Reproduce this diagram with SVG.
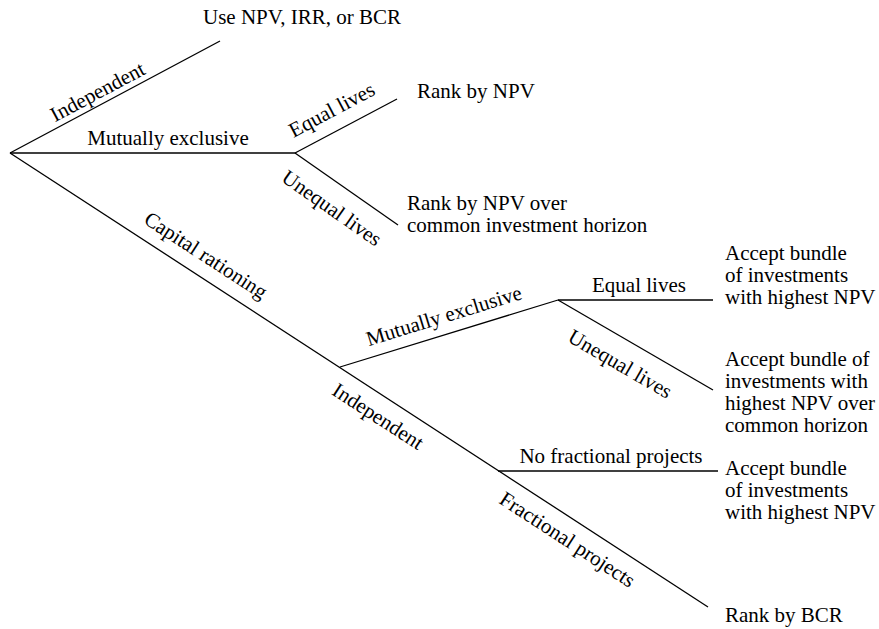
<svg xmlns="http://www.w3.org/2000/svg" width="879" height="629" viewBox="0 0 879 629">
  <style>
    .edge { stroke: #000; stroke-width: 1.3; fill: none; stroke-linecap: butt; }
    text { font-family: "Liberation Serif", "Times New Roman", serif; font-size: 21px; fill: #000; }
    .lbl { text-anchor: middle; }
  </style>
  <rect width="879" height="629" fill="#fff"/>

  <!-- Decision tree branches -->
  <g id="connectors">
    <line class="edge" x1="10" y1="153" x2="220" y2="41"/>
    <line class="edge" x1="10" y1="153" x2="295" y2="153"/>
    <line class="edge" x1="295" y1="153" x2="397" y2="99"/>
    <line class="edge" x1="295" y1="153" x2="398" y2="225"/>
    <line class="edge" x1="10" y1="153" x2="708" y2="607"/>
    <line class="edge" x1="340" y1="367" x2="558" y2="300"/>
    <line class="edge" x1="558" y1="300" x2="713" y2="300"/>
    <line class="edge" x1="558" y1="300" x2="713" y2="390"/>
    <line class="edge" x1="498" y1="471" x2="718" y2="471"/>
  </g>

  <!-- Branch labels -->
  <g id="branch-labels">
    <text class="lbl" transform="translate(103.6,103.2) rotate(-28.07)" y="-6">Independent</text>
    <text class="lbl" x="168" y="145">Mutually exclusive</text>
    <text class="lbl" transform="translate(341.6,128.3) rotate(-27.9)" y="-14">Equal lives</text>
    <text class="lbl" transform="translate(345.6,188.4) rotate(34.95)" y="31">Unequal lives</text>
    <text class="lbl" transform="translate(194.4,272.9) rotate(33.04)" y="-14">Capital rationing</text>
    <text class="lbl" transform="translate(449.3,333.4) rotate(-17.08)" y="-11.5">Mutually exclusive</text>
    <text class="lbl" x="639" y="292">Equal lives</text>
    <text class="lbl" transform="translate(632.2,343.1) rotate(30.14)" y="31">Unequal lives</text>
    <text class="lbl" transform="translate(389,399.5) rotate(33.04)" y="27">Independent</text>
    <text class="lbl" transform="translate(578.4,522.7) rotate(33.04)" y="27">Fractional projects</text>
    <text class="lbl" x="611" y="463">No fractional projects</text>
  </g>

  <!-- Outcomes -->
  <g id="outcome-independent">
    <text x="203" y="24">Use NPV, IRR, or BCR</text>
  </g>
  <g id="outcome-me-equal">
    <text x="417" y="98">Rank by NPV</text>
  </g>
  <g id="outcome-me-unequal">
    <text x="407" y="210">Rank by NPV over</text>
    <text x="407" y="232">common investment horizon</text>
  </g>
  <g id="outcome-cr-me-equal">
    <text x="725" y="260">Accept bundle</text>
    <text x="725" y="282">of investments</text>
    <text x="725" y="304">with highest NPV</text>
  </g>
  <g id="outcome-cr-me-unequal">
    <text x="725" y="366">Accept bundle of</text>
    <text x="725" y="388">investments with</text>
    <text x="725" y="410">highest NPV over</text>
    <text x="725" y="432">common horizon</text>
  </g>
  <g id="outcome-cr-ind-whole">
    <text x="725" y="475">Accept bundle</text>
    <text x="725" y="497">of investments</text>
    <text x="725" y="519">with highest NPV</text>
  </g>
  <g id="outcome-cr-ind-fractional">
    <text x="725" y="622">Rank by BCR</text>
  </g>
</svg>
